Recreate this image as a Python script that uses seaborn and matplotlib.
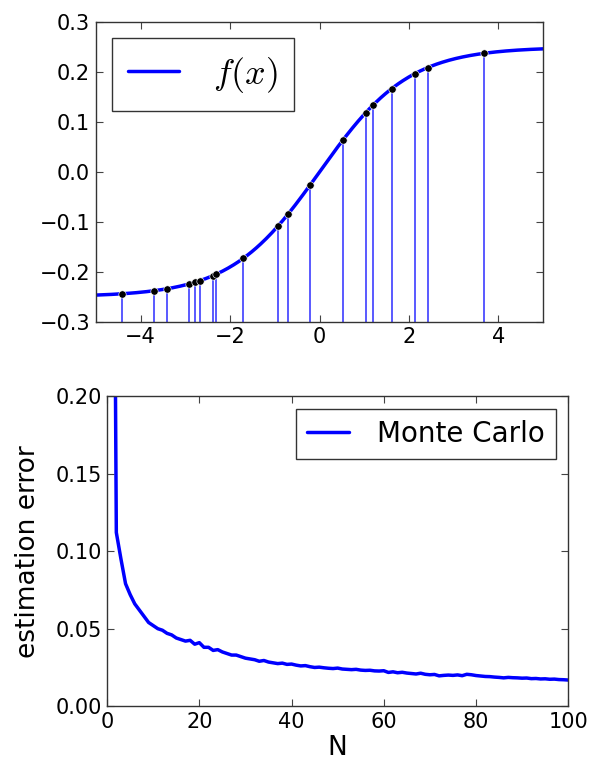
import numpy as np
import pandas as pd
import matplotlib
matplotlib.use("Agg")
import matplotlib.pyplot as plt
import seaborn as sns

# sample points drawn under the curve
sample_x = [-4.41, -3.70, -3.40, -2.91, -2.79, -2.67, -2.39, -2.32, -1.70,
            -0.935, -0.70, -0.21, 0.53, 1.03, 1.20, 1.61, 2.13, 2.42, 3.67]

# Monte Carlo estimation error for N = 1..100
mc_n = list(range(1, 101))
mc_err = [0.60, 0.112, 0.095, 0.079, 0.072, 0.066, 0.062, 0.058, 0.054, 0.052,
          0.050, 0.049, 0.047, 0.046, 0.044, 0.043, 0.042, 0.0425, 0.040, 0.041,
          0.038, 0.038, 0.036, 0.0365, 0.035, 0.034, 0.033, 0.033, 0.032, 0.031,
          0.0305, 0.030, 0.029, 0.0295, 0.0285, 0.028, 0.0275, 0.0278, 0.027, 0.0272,
          0.0265, 0.026, 0.0262, 0.0255, 0.025, 0.0252, 0.0248, 0.0245, 0.0243, 0.0246,
          0.024, 0.0238, 0.0236, 0.0238, 0.0233, 0.0231, 0.0232, 0.0228, 0.0227, 0.0229,
          0.0218, 0.0222, 0.0216, 0.0219, 0.0214, 0.0211, 0.0208, 0.0213, 0.0206, 0.0203,
          0.0205, 0.0196, 0.0199, 0.0201, 0.0199, 0.0202, 0.0197, 0.0206, 0.0203, 0.0198,
          0.0195, 0.0192, 0.0191, 0.0188, 0.0186, 0.0183, 0.0186, 0.0184, 0.0183, 0.0181,
          0.0182, 0.0178, 0.0179, 0.0176, 0.0177, 0.0174, 0.0175, 0.0172, 0.0171, 0.0169]


def f(x):
    return 0.25 * np.tanh(np.asarray(x) / 2.0)


sns.set_style("ticks")
plt.rcParams.update({
    "font.family": ["DejaVu Sans"],
    "font.size": 15,
    "xtick.labelsize": 15,
    "ytick.labelsize": 15,
    "axes.labelsize": 19,
    "text.color": "black",
    "axes.labelcolor": "black",
    "xtick.labelcolor": "black",
    "ytick.labelcolor": "black",
    "mathtext.fontset": "cm",
    "xtick.direction": "in",
    "ytick.direction": "in",
    "xtick.top": True,
    "ytick.right": True,
    "xtick.major.size": 5,
    "ytick.major.size": 5,
    "xtick.major.pad": 4,
    "ytick.major.pad": 4,
    "xtick.color": "#444444",
    "ytick.color": "#444444",
    "axes.edgecolor": "#333333",
    "axes.linewidth": 1.0,
    "legend.fancybox": False,
    "legend.edgecolor": "#333333",
    "legend.framealpha": 1.0,
})

fig = plt.figure(figsize=(5.95, 7.66), dpi=100)

# ---- top: function with samples ----
ax1 = fig.add_axes([0.161, 0.580, 0.752, 0.391])
xs = np.linspace(-5, 5, 400)
curve = pd.DataFrame({"x": xs, "y": f(xs)})
sns.lineplot(data=curve, x="x", y="y", ax=ax1, color="b", linewidth=2.5, label="$f(x)$")
pts = pd.DataFrame({"x": sample_x, "y": f(sample_x)})
ax1.vlines(pts["x"], -0.3, pts["y"], color="b", alpha=0.7, linewidth=1.3)
sns.scatterplot(data=pts, x="x", y="y", ax=ax1, color="k", s=28, zorder=3, legend=False)
ax1.set_xlim(-5, 5)
ax1.set_ylim(-0.3, 0.3)
ax1.set_xticks([-4, -2, 0, 2, 4])
ax1.set_yticks(np.arange(-0.3, 0.31, 0.1))
ax1.set_xlabel("")
ax1.set_ylabel("")
ax1.legend(loc="upper left", fontsize=26, handlelength=1.4, borderpad=0.45,
           handletextpad=0.95, borderaxespad=0.45)

# ---- bottom: Monte Carlo error ----
ax2 = fig.add_axes([0.180, 0.078, 0.775, 0.405])
err = pd.DataFrame({"N": mc_n, "err": mc_err})
sns.lineplot(data=err, x="N", y="err", ax=ax2, color="b", linewidth=2.5, label="Monte Carlo")
ax2.set_xlim(0, 100)
ax2.set_ylim(0, 0.2)
ax2.set_yticks([0.0, 0.05, 0.10, 0.15, 0.20])
ax2.yaxis.set_major_formatter(matplotlib.ticker.FormatStrFormatter("%.2f"))
ax2.set_xlabel("N", labelpad=2)
ax2.set_ylabel("estimation error", labelpad=10)
ax2.legend(loc="upper right", fontsize=20, handlelength=1.5, borderpad=0.4,
           handletextpad=1.0, borderaxespad=0.45)

fig.savefig("out.png", dpi=100)
